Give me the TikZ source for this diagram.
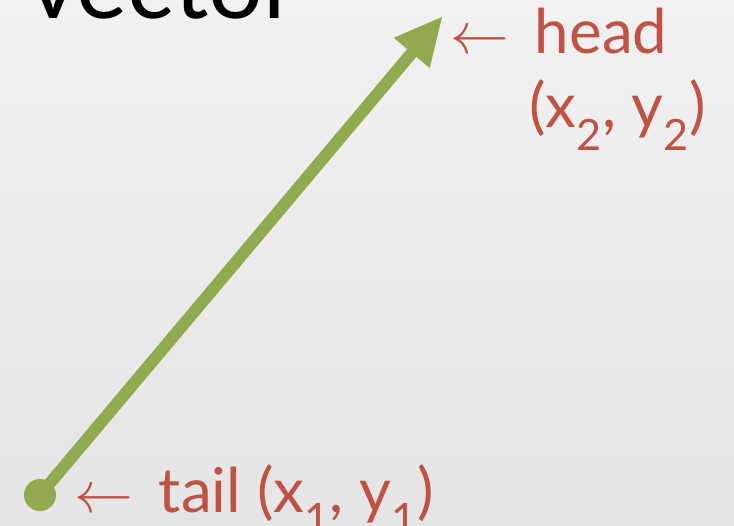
\documentclass[tikz,border=0pt]{standalone}
\usepackage{fontspec}
\setmainfont{Lato}
\usetikzlibrary{arrows.meta,positioning}
\definecolor{vecgreen}{RGB}{145,170,80}
\definecolor{labelred}{RGB}{190,82,68}
\definecolor{bgtop}{RGB}{241,241,241}
\definecolor{bgbot}{RGB}{229,229,229}
\newcommand{\larr}{{\fontsize{10}{12}\selectfont\scalebox{5.9}{$\leftarrow$}}\hspace{26bp}}
\begin{document}
\begin{tikzpicture}[
  x=1bp,y=-1bp,
  lbl/.style={text=labelred,font=\fontsize{62}{74}\selectfont,inner sep=0pt,anchor=base west},
  vec/.style={draw=vecgreen,line width=12bp,-{Triangle[length=47bp,width=47bp,line width=0pt]}},
  dot/.style={circle,fill=vecgreen,minimum size=32bp,inner sep=0pt}
]
\useasboundingbox (0,0) rectangle (734,526);
\shade[top color=bgtop,bottom color=bgbot] (0,0) rectangle (734,526);

% title, cut by the top edge
\node[font=\fontsize{97}{110}\selectfont,inner sep=0pt,anchor=base west] (title) at (28,19) {vector};

% the vector itself
\node[dot] (tail) at (40,495) {};
\coordinate (head) at (442,17);
\draw[vec] (tail.center) -- (head);

% labels
\node[lbl] (headlbl) at (450,54) {\larr head};
\node[lbl] (headxy) at (529,128) {(x\textsubscript{2}, y\textsubscript{2})};
\node[lbl] (taillbl) at (74,512) {\larr tail (x\textsubscript{1}, y\textsubscript{1})};
\end{tikzpicture}
\end{document}
